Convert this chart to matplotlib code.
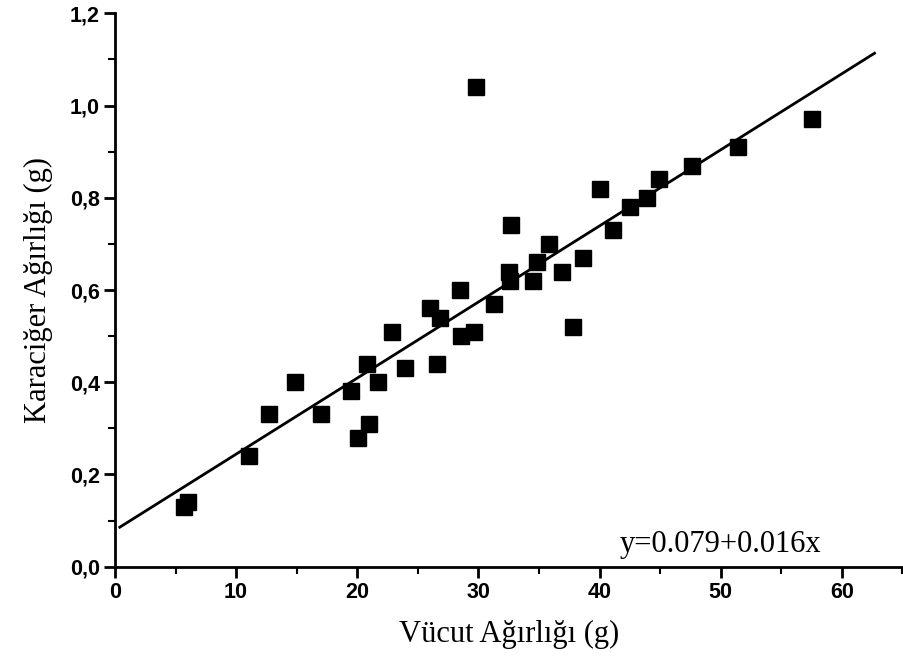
import matplotlib.pyplot as plt
from matplotlib.ticker import MultipleLocator, FuncFormatter

# body weight (g) vs liver weight (g)
body_w = [5.7, 6.0, 11.1, 12.7, 14.9, 17.0, 19.5, 20.1, 21.0, 20.8, 21.7, 22.9,
          23.9, 26.0, 26.8, 26.6, 28.5, 28.6, 29.6, 29.8, 31.3, 32.5, 32.6, 32.7,
          34.5, 34.8, 35.8, 36.9, 37.8, 38.6, 40.0, 41.1, 42.5, 43.9, 44.9, 47.6,
          51.4, 57.5]
liver_w = [0.13, 0.14, 0.24, 0.33, 0.40, 0.33, 0.38, 0.28, 0.31, 0.44, 0.40, 0.51,
           0.43, 0.56, 0.54, 0.44, 0.60, 0.50, 0.51, 1.04, 0.57, 0.64, 0.62, 0.74,
           0.62, 0.66, 0.70, 0.64, 0.52, 0.67, 0.82, 0.73, 0.78, 0.80, 0.84, 0.87,
           0.91, 0.97]

# regression line as drawn
fit_a = 0.079
fit_b = 0.0165
fit_x = [0.4, 62.7]
eq_text = "y=0.079+0.016x"

fig = plt.figure(figsize=(9.04, 6.69), dpi=100)
ax = fig.add_axes([0.1272, 0.153, 0.871, 0.827])

ax.plot(body_w, liver_w, 's', color='black', markersize=11, zorder=3)
ax.plot(fit_x, [fit_a + fit_b * v for v in fit_x], '-', color='black', lw=2)

ax.set_xlim(0, 65)
ax.set_ylim(0, 1.2)

for s in ['top', 'right']:
    ax.spines[s].set_visible(False)
for s in ['left', 'bottom']:
    ax.spines[s].set_linewidth(2)

ax.xaxis.set_major_locator(MultipleLocator(10))
ax.xaxis.set_minor_locator(MultipleLocator(5))
ax.yaxis.set_major_locator(MultipleLocator(0.2))
ax.yaxis.set_minor_locator(MultipleLocator(0.1))
ax.yaxis.set_major_formatter(FuncFormatter(lambda v, p: f"{v:.1f}".replace('.', ',')))

ax.tick_params(which='major', direction='out', length=8, width=2, pad=3)
ax.tick_params(which='minor', direction='out', length=5, width=1.5)
for lab in ax.get_xticklabels() + ax.get_yticklabels():
    lab.set_fontfamily('Liberation Sans')
    lab.set_fontweight('bold')
    lab.set_fontsize(15.5)

ax.set_xlabel("Vücut Ağırlığı (g)", fontfamily='Liberation Serif', fontsize=22, labelpad=12)
ax.set_ylabel("Karaciğer Ağırlığı (g)", fontfamily='Liberation Serif', fontsize=22, labelpad=12)

ax.text(41.7, 0.047, eq_text, fontfamily='Liberation Serif', fontsize=22, va='center')

fig.savefig('out.png', dpi=100)
